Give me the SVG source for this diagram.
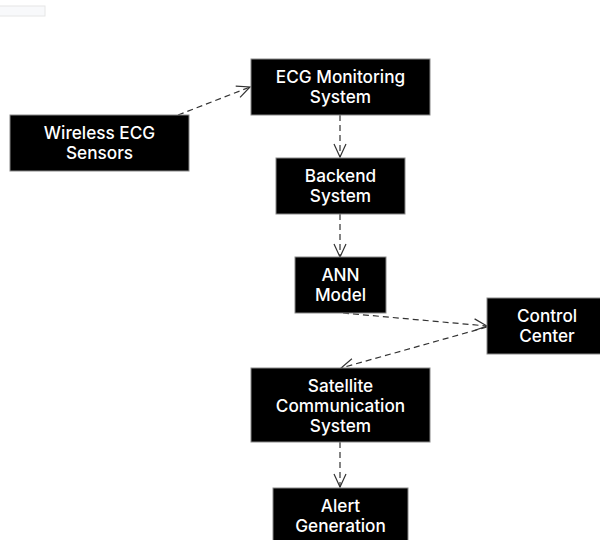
<svg xmlns="http://www.w3.org/2000/svg" width="600" height="540" viewBox="0 0 600 540">
<style>
.box{fill:#000;stroke:#888;stroke-width:1}
.t{fill:#fff;font-family:Inter,Roboto,"Liberation Sans",sans-serif;font-size:17.2px;font-weight:500;text-anchor:middle}
.c{fill:none;stroke:#333;stroke-width:1.2;stroke-dasharray:6,4}
</style>
<defs>
<marker id="ah" markerWidth="16" markerHeight="16" refX="14" refY="8" orient="auto" markerUnits="userSpaceOnUse">
<path d="M1,2 L14,8 L1,14" fill="none" stroke="#333" stroke-width="1.2"/>
</marker>
</defs>
<rect x="-1" y="6" width="46" height="10" fill="#f8f9fb" stroke="#e6e6e6" stroke-width="1"/>
<g id="connectors">
<path class="c" d="M178,115 L250,87" marker-end="url(#ah)"/>
<path class="c" d="M340,115 L340,157" marker-end="url(#ah)"/>
<path class="c" d="M340,214 L340,257" marker-end="url(#ah)"/>
<path class="c" d="M343,313 L487,326" marker-end="url(#ah)"/>
<path class="c" d="M487,327 L341,368" marker-end="url(#ah)"/>
<path class="c" d="M340,442 L340,487" marker-end="url(#ah)"/>
</g>
<g id="wireless">
<rect class="box" x="10" y="115" width="179" height="56"/>
<text class="t" x="99.5" y="138.5">Wireless ECG</text>
<text class="t" x="99.5" y="158.5">Sensors</text>
</g>
<g id="ecg">
<rect class="box" x="251" y="59" width="179" height="56"/>
<text class="t" x="340.5" y="82.5">ECG Monitoring</text>
<text class="t" x="340.5" y="102.5">System</text>
</g>
<g id="backend">
<rect class="box" x="276" y="158" width="129" height="56"/>
<text class="t" x="340.5" y="181.5">Backend</text>
<text class="t" x="340.5" y="201.5">System</text>
</g>
<g id="ann">
<rect class="box" x="295" y="257" width="91" height="56"/>
<text class="t" x="340.5" y="280.5">ANN</text>
<text class="t" x="340.5" y="300.5">Model</text>
</g>
<g id="control">
<rect class="box" x="487" y="298" width="118" height="56"/>
<text class="t" x="547" y="321.5">Control</text>
<text class="t" x="547" y="341.5">Center</text>
</g>
<g id="satellite">
<rect class="box" x="251" y="368" width="179" height="74"/>
<text class="t" x="340.5" y="391.5">Satellite</text>
<text class="t" x="340.5" y="411.5">Communication</text>
<text class="t" x="340.5" y="431.5">System</text>
</g>
<g id="alert">
<rect class="box" x="273" y="488" width="135" height="60"/>
<text class="t" x="340.5" y="511.5">Alert</text>
<text class="t" x="340.5" y="531.5">Generation</text>
</g>
</svg>
